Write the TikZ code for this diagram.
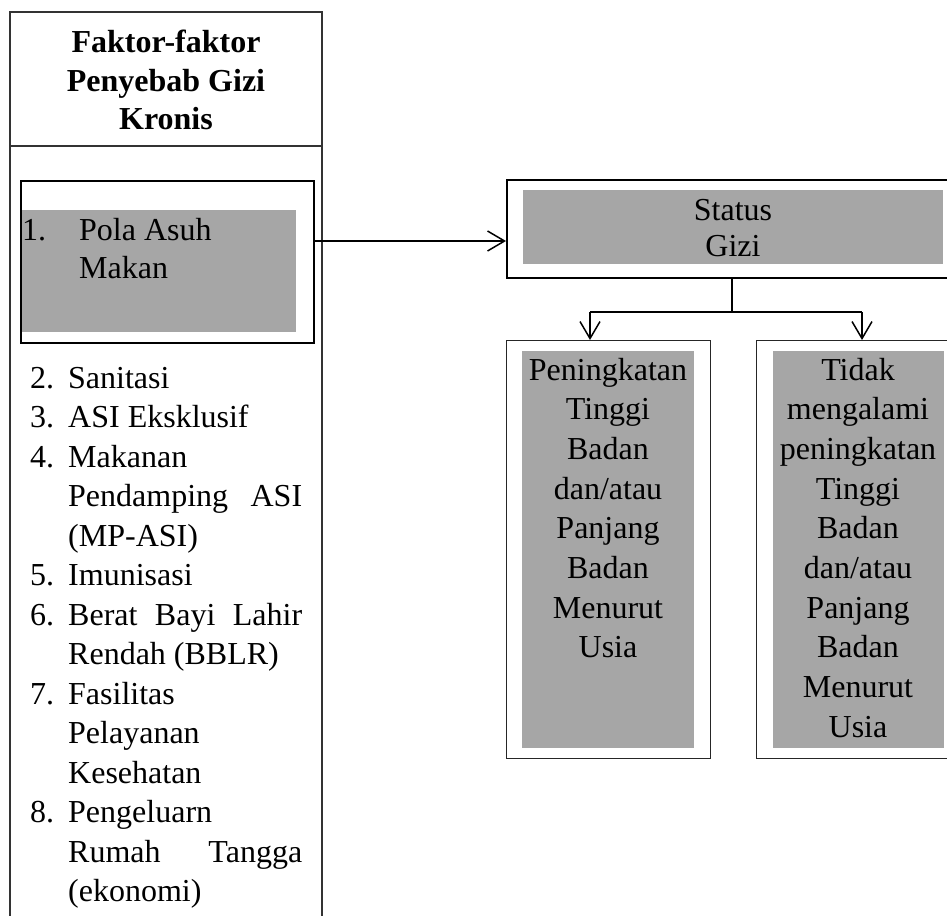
\documentclass[tikz,border=0pt]{standalone}
\usepackage{fontspec}
\setmainfont{Liberation Serif}
\usetikzlibrary{arrows.meta}
\definecolor{boxgray}{HTML}{A6A6A6}
\tikzset{
  txt/.style={font=\fontsize{32}{39.5}\selectfont, inner sep=0pt, anchor=base west},
  ctxt/.style={font=\fontsize{32}{39.5}\selectfont, inner sep=0pt, anchor=base},
  htxt/.style={font=\fontsize{32}{39.5}\selectfont\bfseries, inner sep=0pt, anchor=base},
  thickbox/.style={draw=black, line width=2pt, inner sep=0pt, anchor=north west},
  thinbox/.style={draw=black!85, line width=1.2pt, inner sep=0pt, anchor=north west},
  grayfill/.style={fill=boxgray, inner sep=0pt, anchor=north west},
  conn/.style={line width=1.5pt},
  arr/.style={line width=1.5pt, -{Straight Barb[length=17pt,width=20pt]}}
}
\begin{document}
\begin{tikzpicture}[x=1pt,y=-1pt]
\useasboundingbox (0,0) rectangle (947,915);
\clip (0,0) rectangle (947,915);
\fill[white] (0,0) rectangle (947,915);

% left column frame (open at the bottom)
\coordinate (fbl) at (10,930);
\coordinate (ftl) at (10,12);
\coordinate (ftr) at (322,12);
\coordinate (fbr) at (322,930);
\draw[line width=1.2pt, black!80] (fbl) -- (ftl) -- (ftr) -- (fbr);
\coordinate (hl) at (10,146);
\coordinate (hr) at (322,146);
\draw[line width=1.2pt, black!80] (hl) -- (hr);

% header
\node[htxt] (h1) at (166,53) {Faktor-faktor};
\node[htxt] (h2) at (166,91.5) {Penyebab Gizi};
\node[htxt] (h3) at (166,130) {Kronis};

% item 1 box
\node[grayfill, minimum width=276pt, minimum height=122pt] (g1) at (20,210) {};
\node[thickbox, minimum width=293pt, minimum height=162pt] (pola) at (20,180) {};
\node[txt] (n1) at (22,240) {1.};
\node[txt] (t1a) at (79,240) {Pola Asuh};
\node[txt] (t1b) at (79,278) {Makan};

% list
\node[txt] (n2) at (30,388) {2.};
\node[txt] (t2) at (68,388) {Sanitasi};
\node[txt] (n3) at (30,427.5) {3.};
\node[txt] (t3) at (68,427.5) {ASI Eksklusif};
\node[txt] (n4) at (30,467) {4.};
\node[txt] (t4a) at (68,467) {Makanan};
\node[txt] (t4b) at (68,506.5) {\makebox[234pt][s]{Pendamping ASI}};
\node[txt] (t4c) at (68,546) {(MP-ASI)};
\node[txt] (n5) at (30,585.5) {5.};
\node[txt] (t5) at (68,585.5) {Imunisasi};
\node[txt] (n6) at (30,625) {6.};
\node[txt] (t6a) at (68,625) {\makebox[234pt][s]{Berat Bayi Lahir}};
\node[txt] (t6b) at (68,664.5) {Rendah (BBLR)};
\node[txt] (n7) at (30,704) {7.};
\node[txt] (t7a) at (68,704) {Fasilitas};
\node[txt] (t7b) at (68,743.5) {Pelayanan};
\node[txt] (t7c) at (68,783) {Kesehatan};
\node[txt] (n8) at (30,822.5) {8.};
\node[txt] (t8a) at (68,822.5) {Pengeluarn};
\node[txt] (t8b) at (68,862) {\makebox[234pt][s]{Rumah Tangga}};
\node[txt] (t8c) at (68,901.5) {(ekonomi)};

% status box
\node[grayfill, minimum width=420pt, minimum height=74pt] (gs) at (523,190) {};
\node[thickbox, minimum width=454pt, minimum height=98pt] (status) at (506,179) {};
\node[ctxt] (s1) at (733,220) {Status};
\node[ctxt] (s2) at (733,256) {Gizi};

% lower boxes
\node[grayfill, minimum width=172pt, minimum height=397pt] (gl) at (522,351) {};
\node[thinbox, minimum width=204pt, minimum height=418pt] (lowL) at (506,340) {};
\node[grayfill, minimum width=171pt, minimum height=397pt] (gr) at (773,351) {};
\node[thinbox, minimum width=204pt, minimum height=418pt] (lowR) at (756,340) {};

\node[ctxt] (l1) at (608,380) {Peningkatan};
\node[ctxt] (l2) at (608,419.7) {Tinggi};
\node[ctxt] (l3) at (608,459.4) {Badan};
\node[ctxt] (l4) at (608,499.1) {dan/atau};
\node[ctxt] (l5) at (608,538.8) {Panjang};
\node[ctxt] (l6) at (608,578.5) {Badan};
\node[ctxt] (l7) at (608,618.2) {Menurut};
\node[ctxt] (l8) at (608,657.9) {Usia};

\node[ctxt] (r1) at (858,380) {Tidak};
\node[ctxt] (r2) at (858,419.7) {mengalami};
\node[ctxt] (r3) at (858,459.4) {peningkatan};
\node[ctxt] (r4) at (858,499.1) {Tinggi};
\node[ctxt] (r5) at (858,538.8) {Badan};
\node[ctxt] (r6) at (858,578.5) {dan/atau};
\node[ctxt] (r7) at (858,618.2) {Panjang};
\node[ctxt] (r8) at (858,657.9) {Badan};
\node[ctxt] (r9) at (858,697.6) {Menurut};
\node[ctxt] (r10) at (858,737.3) {Usia};

% connectors
\coordinate (ay) at (0,241);
\draw[arr] (pola.east |- ay) -- (status.west |- ay);
\coordinate (j) at (732,312);
\coordinate (bl) at (590,312);
\coordinate (br) at (862,312);
\draw[conn] (status.south -| j) -- (j);
\draw[conn] (bl) -- (br);
\draw[arr] (bl) -- (bl |- lowL.north);
\draw[arr] (br) -- (br |- lowR.north);
\end{tikzpicture}
\end{document}
